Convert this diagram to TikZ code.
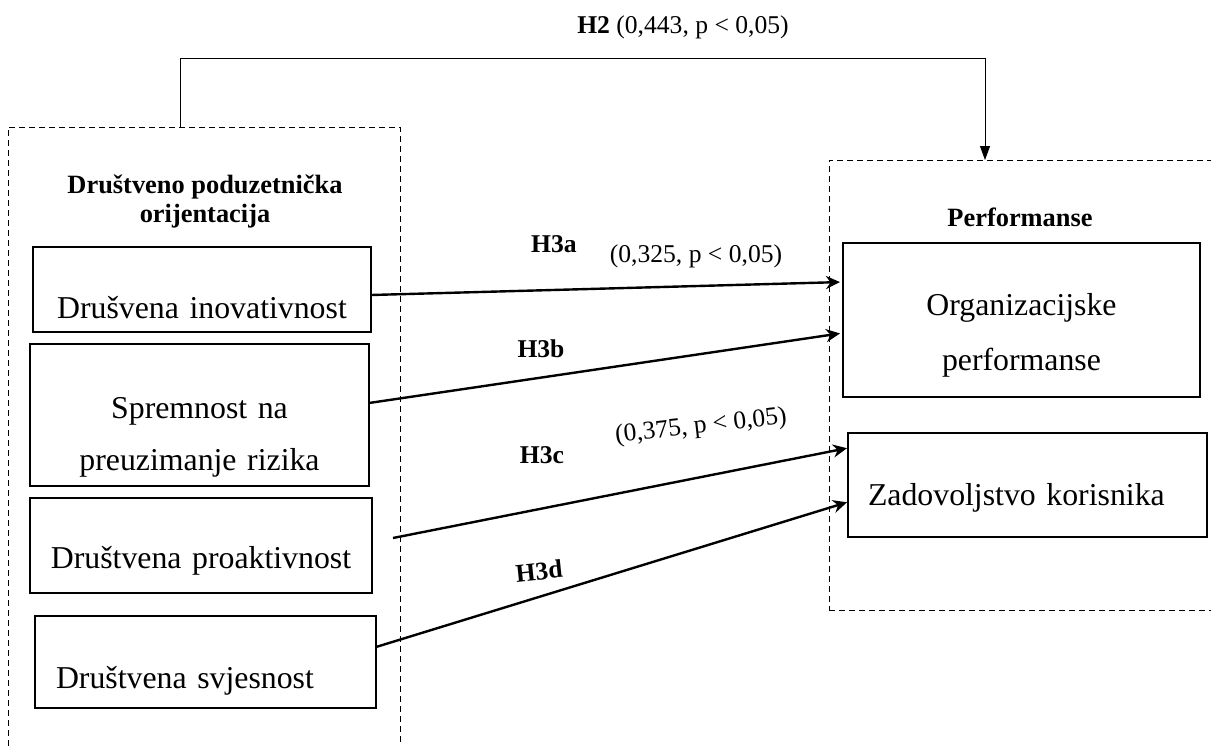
\documentclass[tikz,border=0pt]{standalone}
\usepackage{fontspec}
\setmainfont{Liberation Serif}
\usetikzlibrary{arrows.meta}
\newcommand{\boxfont}{\fontsize{15.9pt}{26pt}\selectfont}
\newcommand{\headfont}{\fontsize{13.2pt}{14.5pt}\selectfont\bfseries}
\newcommand{\hypfont}{\fontsize{12.8pt}{14pt}\selectfont}
\tikzset{
  grp/.style={draw, line width=0.5pt, dash pattern=on 3pt off 2pt,
    inner sep=0pt, outer sep=0pt, anchor=north west},
  var/.style={draw, line width=0.7pt, font=\boxfont, inner sep=0pt,
    outer sep=0pt, anchor=north west},
  lbl/.style={font=\hypfont, inner sep=0pt, anchor=base},
  hyp/.style={line width=1.2pt, -{Stealth[length=7pt,width=6.5pt]}},
  h2line/.style={line width=0.5pt, -{Triangle[length=7pt,width=5pt]}},
}
\begin{document}
\begin{tikzpicture}[x=0.5pt, y=-0.5pt]
      \useasboundingbox (0,0) rectangle (1211,745);
      \node[grp, minimum width=196pt, minimum height=316.5pt] (soc) at (8,127) {};
      \node[grp, minimum width=196pt, minimum height=225pt] (perf) at (829,160) {};
      \node[font=\headfont, align=center, anchor=base] (soctitle) at (205,222)
        {Društveno poduzetnička\\orijentacija};
      \node[font=\headfont, anchor=base] (perftitle) at (1020,226) {Performanse};
      \node[var, text width=169pt, align=center, text height=35.5pt, text depth=7pt]
        (inov) at (33,247) {Drušvena inovativnost};
      \node[var, text width=169.5pt, align=center, text height=37pt, text depth=34pt]
        (risk) at (30,344) {Spremnost na\\preuzimanje rizika};
      \node[var, text width=171pt, align=center, text height=35pt, text depth=12.5pt]
        (proak) at (30,498) {Društvena proaktivnost};
      \node[var, inner xsep=10.5pt, text width=149.5pt, align=left, text height=36pt, text depth=10pt]
        (svjes) at (35,616) {Društvena svjesnost};
      \node[var, text width=178.5pt, align=center, text height=36pt, text depth=41pt]
        (org) at (843,243) {Organizacijske\\[1.5pt]performanse};
      \node[var, inner xsep=10pt, text width=159.5pt, align=left, text height=36pt, text depth=16pt]
        (zad) at (848,433) {Zadovoljstvo korisnika};
      \node[lbl] (h2lbl) at (683,33) {\textbf{H2} (0,443, p < 0,05)};
      \node[lbl, font=\hypfont\bfseries] (h3a) at (554,252) {H3a};
      \node[lbl] (b3a) at (696,262) {(0,325, p < 0,05)};
      \node[lbl, font=\hypfont\bfseries] (h3b) at (541,357) {H3b};
      \node[lbl, anchor=center, rotate=6.5] (b3c) at (701,427) {(0,375, p < 0,05)};
      \node[lbl, font=\hypfont\bfseries] (h3c) at (542,463) {H3c};
      \node[lbl, font=\hypfont\bfseries, anchor=center, rotate=6] (h3d) at (539,571) {H3d};
      \coordinate (c0) at (393,538);
      \begin{scope}[hyp]
        \draw[shorten >=1.5pt] ([yshift=-2.75pt]inov.east) to ([yshift=19pt]org.west);
        \draw[shorten >=1.5pt] ([yshift=6pt]risk.east) to ([yshift=-6.5pt]org.west);
        \draw[shorten >=0.5pt] (c0) to ([yshift=18.5pt]zad.west);
        \draw[shorten >=0.5pt] ([yshift=7.5pt]svjes.east) to ([yshift=-8.5pt]zad.west);
      \end{scope}
      \draw[h2line] ([xshift=-12pt]soc.north) -- ++(0,-69) -| ([xshift=-20pt]perf.north);
    \end{tikzpicture}
\end{document}
